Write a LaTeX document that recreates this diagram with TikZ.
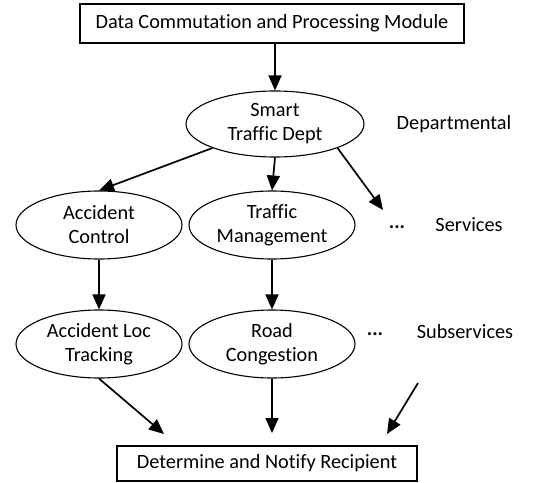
\documentclass[tikz,border=0pt]{standalone}
\usepackage{fontspec}
\setmainfont[Ligatures=NoCommon]{Carlito}
\usetikzlibrary{shapes.geometric,arrows.meta}
\begin{document}
\begin{tikzpicture}[x=1pt,y=-1pt,
  every node/.style={font=\fontsize{20.3}{24}\selectfont},
  rectbox/.style={draw,line width=1.1pt,inner sep=0pt},
  ell/.style={draw,ellipse,line width=1.1pt,inner sep=0pt,align=center,minimum width=166pt,minimum height=68pt},
  arr/.style={line width=1.7pt,-{Triangle[length=15pt,width=13pt]}},
  lbl/.style={inner sep=0pt}]
\useasboundingbox (0,0) rectangle (538,482);
\node[rectbox,minimum width=384pt,minimum height=39pt] (top) at (272,23.5) {Data Commutation and Processing Module};
\node[ell,minimum width=178pt,minimum height=66pt] (smart) at (275,124) {Smart\\Traffic Dept};
\node[ell] (ac) at (99,225) {Accident\\Control};
\node[ell] (tm) at (272,225) {Traffic\\Management};
\node[ell] (acl) at (99,344) {Accident Loc\\Tracking};
\node[ell] (rc) at (272,344) {Road\\Congestion};
\node[rectbox,minimum width=300pt,minimum height=35pt] (bot) at (267,463.5) {Determine and Notify Recipient};
\node[lbl] (dept) at (454,124) {Departmental};
\node[lbl] (dots1) at (397,227) {\textbf{...}};
\node[lbl] (svc) at (469,225) {Services};
\node[lbl] (dots2) at (375,334) {\textbf{...}};
\node[lbl] (subsvc) at (465,332) {Subservices};
\coordinate (svcend) at (383,210);
\coordinate (e1) at (164,434);
\coordinate (e2) at (272,433);
\coordinate (s3) at (418,383);
\coordinate (e3) at (387,434);
\draw[arr] (top.south -| smart.north) -- (smart.north);
\draw[arr] (smart.201) -- (ac.north);
\draw[arr] (smart.south) -- (tm.north);
\draw[arr] (smart.339) -- (svcend);
\draw[arr] (ac.south) -- (acl.north);
\draw[arr] (tm.south) -- (rc.north);
\draw[arr] (acl.south) -- (e1);
\draw[arr] (rc.south) -- (e2);
\draw[arr] (s3) -- (e3);
\end{tikzpicture}
\end{document}
